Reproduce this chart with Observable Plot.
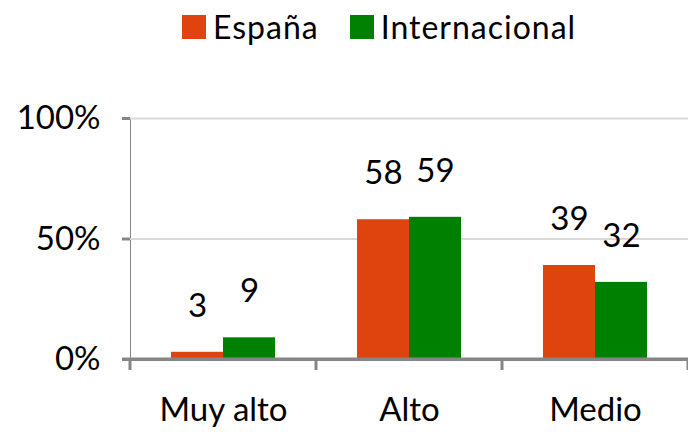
<!DOCTYPE html>
<html>
<head>
<meta charset="utf-8">
<script src="https://cdn.jsdelivr.net/npm/d3@7"></script>
<script src="https://cdn.jsdelivr.net/npm/@observablehq/plot@0.6"></script>
<style>
  html, body { margin: 0; padding: 0; background: #fff; width: 688px; height: 432px; overflow: hidden; }
  #wrap { position: relative; width: 688px; height: 432px; }
  #legend { position: absolute; left: 182px; top: 7px; display: flex; align-items: center; font-family: Lato, sans-serif; font-size: 32px; letter-spacing: 1px; color: #000; }
  #legend .item { display: flex; align-items: center; margin-right: 31px; }
  #legend .sw { width: 24px; height: 24px; margin-right: 7px; }
  #chart svg text { fill: #000 !important; }
  #chart g[aria-label*="y-axis"] line, #chart g[aria-label*="y-axis"] path { stroke: #868686 !important; stroke-width: 3px; }
</style>
</head>
<body>
<div id="wrap">
  <div id="chart"></div>
  <div id="legend"></div>
</div>
<script>
const categories = ["Muy alto", "Alto", "Medio"];
const series = ["España", "Internacional"];
const espana = [3, 58, 39];
const internacional = [9, 59, 32];
const yTicks = [0, 50, 100];
const gridValues = [50, 100];
const colors = ["#E0440E", "#008000"];

const data = categories.flatMap((c, i) => [
  {cat: c, serie: series[0], value: espana[i]},
  {cat: c, serie: series[1], value: internacional[i]}
]);

const axisGray = "#868686";

const plot = Plot.plot({
  width: 688,
  height: 432,
  marginTop: 118,
  marginBottom: 73,
  marginLeft: 130,
  marginRight: 0,
  style: {fontFamily: "Lato, sans-serif", fontSize: "33px", color: axisGray, background: "transparent", overflow: "visible"},
  facet: {data: data, x: "cat"},
  fx: {domain: categories, padding: 0, label: null, axis: "bottom", tickSize: 0, tickPadding: 38},
  x: {domain: series, paddingInner: 0, paddingOuter: 0.78, axis: null},
  y: {domain: [0, 100], ticks: yTicks, tickFormat: d => d + "%", label: null, tickSize: 8, tickPadding: 22, line: true},
  color: {domain: series, range: colors},
  marks: [
    Plot.ruleY(gridValues, {stroke: "#d9d9d9", strokeWidth: 2}),
    Plot.barY(data, {x: "serie", y: "value", fill: "serie"}),
    Plot.text(data, {x: "serie", y: "value", text: d => String(d.value), dy: -46, fontSize: 33, fill: "#000"}),
    Plot.ruleY([0], {stroke: axisGray, strokeWidth: 3})
  ]
});
document.getElementById("chart").appendChild(plot);

// category boundary ticks and left extension of the x axis line, using Plot's scales
const fx = plot.scale("fx");
const y = plot.scale("y");
const svg = d3.select(plot);
const y0 = y.apply(0);
const g = svg.append("g").attr("stroke", axisGray).attr("stroke-width", 3);
const edges = categories.map(c => fx.apply(c)).concat([fx.apply(categories[categories.length - 1]) + fx.bandwidth]);
g.selectAll("line.tk").data(edges).join("line")
  .attr("x1", d => d).attr("x2", d => d)
  .attr("y1", y0).attr("y2", y0 + 11);
g.append("line").attr("x1", edges[0] - 8).attr("x2", edges[edges.length - 1]).attr("y1", y0).attr("y2", y0);

// legend
const leg = d3.select("#legend");
series.forEach((s, i) => {
  const it = leg.append("div").attr("class", "item");
  it.append("div").attr("class", "sw").style("background", colors[i]);
  it.append("span").text(s);
});
</script>
</body>
</html>
